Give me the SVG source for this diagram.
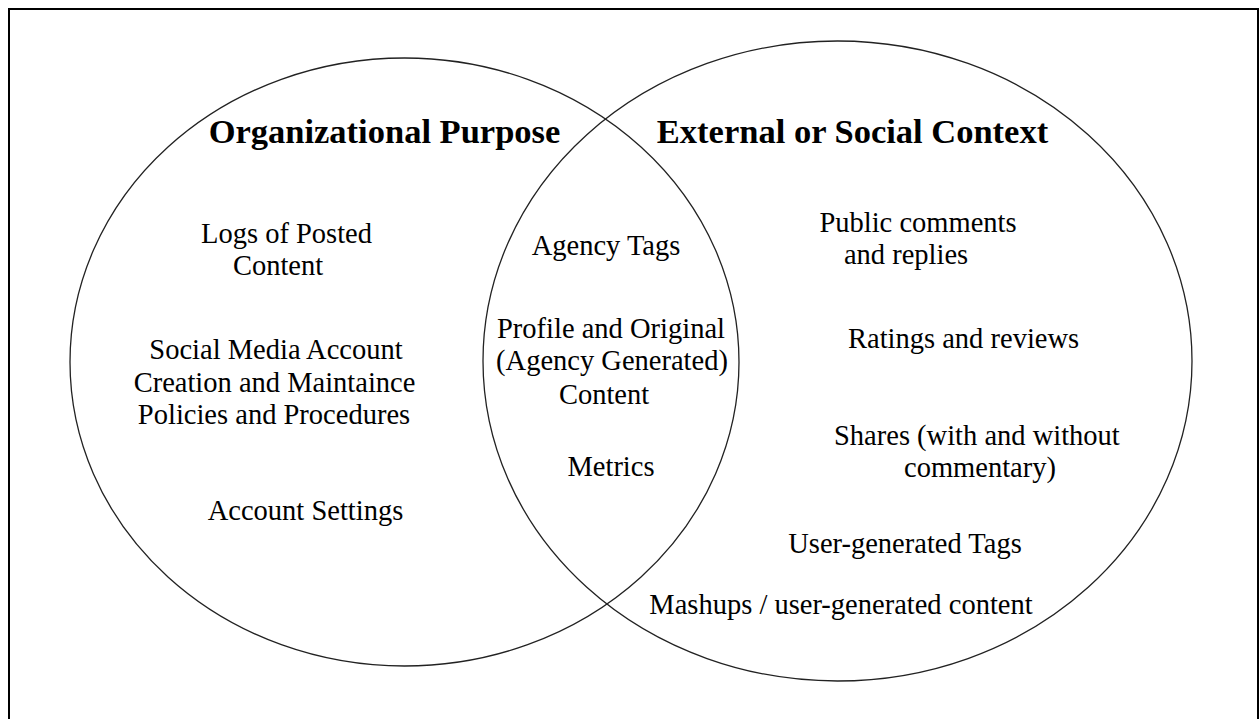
<svg xmlns="http://www.w3.org/2000/svg" width="1259" height="719" viewBox="0 0 1259 719">
<style>
.set{fill:none;stroke:#222;stroke-width:1.3}
.title{font-family:"Liberation Serif","Times New Roman",serif;font-weight:bold;font-size:34.5px;fill:#000;text-anchor:middle}
.t{font-family:"Liberation Serif","Times New Roman",serif;font-size:28.5px;fill:#000;text-anchor:middle}
.s{text-anchor:start}
</style>
<rect x="0" y="0" width="1259" height="719" fill="#fff"/>
<rect id="frame" x="9" y="9" width="1249" height="720" fill="none" stroke="#000" stroke-width="2"/>
<g id="connectors"></g>
<g id="organizational-purpose">
<ellipse class="set" cx="404.5" cy="362" rx="334.5" ry="304"/>
<text class="title" x="384.5" y="143">Organizational Purpose</text>
<text class="t" x="286.5" y="243">Logs of Posted</text>
<text class="t" x="278" y="275">Content</text>
<text class="t" x="276" y="359">Social Media Account</text>
<text class="t" x="274.5" y="392">Creation and Maintaince</text>
<text class="t" x="274" y="424">Policies and Procedures</text>
<text class="t" x="305.5" y="520">Account Settings</text>
</g>
<g id="external-social-context">
<ellipse class="set" cx="837.5" cy="361" rx="354.5" ry="320"/>
<text class="title" x="852.5" y="143">External or Social Context</text>
<text class="t" x="918" y="232">Public comments</text>
<text class="t" x="906" y="264">and replies</text>
<text class="t s" x="848" y="348">Ratings and reviews</text>
<text class="t s" x="834" y="445">Shares (with and without</text>
<text class="t" x="980" y="477">commentary)</text>
<text class="t" x="905" y="553">User-generated Tags</text>
<text class="t" x="841" y="614">Mashups / user-generated content</text>
</g>
<g id="overlap">
<text class="t" x="606" y="255">Agency Tags</text>
<text class="t" x="611" y="337.5">Profile and Original</text>
<text class="t" x="612" y="370">(Agency Generated)</text>
<text class="t" x="604" y="404">Content</text>
<text class="t" x="611" y="476">Metrics</text>
</g>
</svg>
